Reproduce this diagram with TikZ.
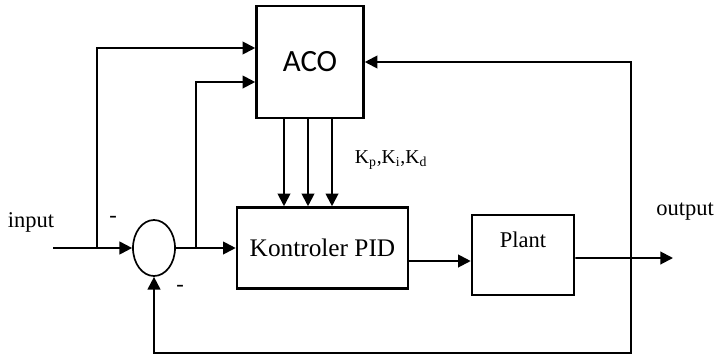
\documentclass[tikz,border=0pt]{standalone}
\usepackage{fontspec}
\setmainfont{Liberation Serif}
\newfontfamily\acofont{Carlito}
\usetikzlibrary{arrows.meta,calc,positioning,shapes.geometric}
\tikzset{
  block/.style={draw,rectangle,line width=1.8pt,minimum width=2.55cm,minimum height=2cm,align=center,font=\fontsize{18}{20}\selectfont},
  sum/.style={draw,ellipse,line width=1.2pt,minimum width=1.05cm,minimum height=1.4cm,inner sep=0pt},
  wire/.style={line width=1.4pt},
  lbl/.style={font=\fontsize{16}{18}\selectfont}
}

\begin{document}
\begin{tikzpicture}[x=0.025cm,y=-0.025cm,>={Triangle[length=9pt,width=9pt]}]
  \useasboundingbox (0,0) rectangle (718,356);
  \node[block,minimum width=2.675cm,minimum height=2.8cm,font=\acofont\fontsize{22}{24}\selectfont] (aco) at (310,62) {ACO};
  \node[block,minimum width=4.275cm,minimum height=2.025cm] (pid) at (322.5,248) {Kontroler PID};
  \node[block] (plant) at (523,255) {};
  \node[lbl] (plantlbl) at (523,240) {Plant};
  \node[sum] (s) at (154,248) {};

  \coordinate (in) at (53,248);
  \coordinate (b1) at (97,248);
  \coordinate (b2) at (196,248);
  \coordinate (tap) at (631,258);
  \coordinate (out) at (673,258);
  \coordinate (bot) at (631,353);

  \draw[wire,->] (in) -- (s.west);
  \draw[wire,->] (b1) |- ([yshift=0.35cm]aco.west);
  \draw[wire,->] (s.east) -- (pid.west);
  \draw[wire,->] (b2) |- ([yshift=-0.5cm]aco.west);
  \foreach \dx in {-0.65,-0.05,0.55}
    \draw[wire,->] ([xshift=\dx cm]aco.south) -- ([xshift=\dx cm]aco.south |- pid.north);
  \draw[wire,->] ([yshift=-0.325cm]pid.east) -- ([yshift=-0.325cm]pid.east -| plant.west);
  \draw[wire,->] ([yshift=-0.075cm]plant.east) -- (out);
  \draw[wire,->] (tap) |- (aco.east);
  \draw[wire,->] (tap) -- (bot) -| (s.south);

  \node[lbl] (inlbl) at (31,222) {input};
  \node[lbl] (outlbl) at (685,212) {output};
  \node[font=\fontsize{14}{16}\selectfont,anchor=west] (gains) at (350,160) {K\textsubscript{p},K\textsubscript{i},K\textsubscript{d}};
  \node[lbl] (m1) at (113,219) {-};
  \node[lbl] (m2) at (180,288) {-};
\end{tikzpicture}
\end{document}
